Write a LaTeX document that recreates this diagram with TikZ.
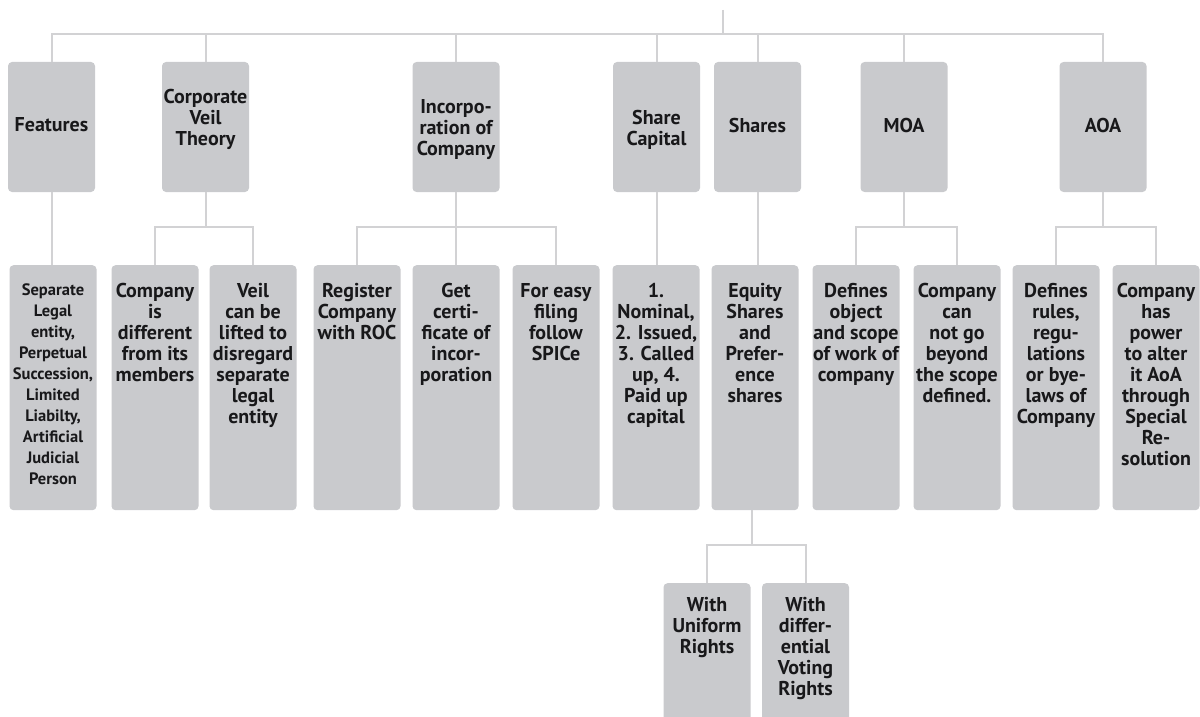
\documentclass[tikz,border=0pt]{standalone}
\usepackage{fontspec}
\setmainfont{PT Sans}
\begin{document}
\begin{tikzpicture}[x=1pt,y=-1pt,
  box/.style={draw=none, fill=boxgray, rounded corners=4pt, minimum width=87pt, inner sep=0pt},
  topbox/.style={box, minimum height=130pt},
  midbox/.style={box, minimum height=245pt, anchor=north},
  lowbox/.style={box, minimum height=160pt, anchor=north},
  txt/.style={text=textdark, font=\bfseries\fontsize{20}{21}\selectfont, align=center, inner sep=0pt},
  smalltxt/.style={txt, font=\bfseries\fontsize{16.5}{21}\selectfont},
  conn/.style={draw=linegray, line width=2pt}]
\definecolor{boxgray}{RGB}{201,202,205}
\definecolor{linegray}{RGB}{210,210,212}
\definecolor{textdark}{RGB}{24,24,26}
\useasboundingbox (0,0) rectangle (1200,717);
\clip (0,0) rectangle (1200,717);
% top row
\node[topbox] (feat) at (51.5,127) {};
\node[topbox] (cvt) at (205.5,127) {};
\node[topbox] (inc) at (456,127) {};
\node[topbox] (sc) at (656.5,127) {};
\node[topbox] (sh) at (757.5,127) {};
\node[topbox] (moa) at (904,127) {};
\node[topbox] (aoa) at (1103,127) {};
\node[txt] at ([yshift=2]feat.center) {Features};
\node[txt] at ([yshift=8]cvt.center) {Corporate\\Veil\\Theory};
\node[txt] at ([yshift=-3]inc.center) {Incorpo-\\ration of\\Company};
\node[txt] at ([yshift=-3]sc.center) {Share\\Capital};
\node[txt] at ([yshift=2]sh.center) {Shares};
\node[txt] at ([yshift=2]moa.center) {MOA};
\node[txt] at ([yshift=2]aoa.center) {AOA};
% second row
\node[midbox] (f1) at (53,265) {};
\node[midbox] (c1) at (155,265) {};
\node[midbox] (c2) at (253,265) {};
\node[midbox] (i1) at (357,265) {};
\node[midbox] (i2) at (456,265) {};
\node[midbox] (i3) at (556,265) {};
\node[midbox] (s1) at (656,265) {};
\node[midbox] (e1) at (755,265) {};
\node[midbox] (m1) at (856,265) {};
\node[midbox] (m2) at (957,265) {};
\node[midbox] (a1) at (1056,265) {};
\node[midbox] (a2) at (1156,265) {};
\node[smalltxt, anchor=north] at ([yshift=-19]f1.north) {Separate\\Legal\\entity,\\Perpetual\\Succession,\\Limited\\Liabilty,\\Artificial\\Judicial\\Person};
\node[txt, anchor=north] at ([yshift=-18]c1.north) {Company\\is\\different\\from its\\members};
\node[txt, anchor=north] at ([yshift=-18]c2.north) {Veil\\can be\\lifted to\\disregard\\separate\\legal\\entity};
\node[txt, anchor=north] at ([yshift=-18]i1.north) {Register\\Company\\with ROC};
\node[txt, anchor=north] at ([yshift=-18]i2.north) {Get\\certi-\\ficate of\\incor-\\poration};
\node[txt, anchor=north] at ([yshift=-18]i3.north) {For easy\\filing\\follow\\SPICe};
\node[txt, anchor=north] at ([yshift=-18]s1.north) {1.\\Nominal,\\2. Issued,\\3. Called\\up, 4.\\Paid up\\capital};
\node[txt, anchor=north] at ([yshift=-18]e1.north) {Equity\\Shares\\and\\Prefer-\\ence\\shares};
\node[txt, anchor=north] at ([yshift=-18]m1.north) {Defines\\object\\and scope\\of work of\\company};
\node[txt, anchor=north] at ([yshift=-18]m2.north) {Company\\can\\not go\\beyond\\the scope\\defined.};
\node[txt, anchor=north] at ([yshift=-18]a1.north) {Defines\\rules,\\regu-\\lations\\or bye-\\laws of\\Company};
\node[txt, anchor=north] at ([yshift=-18]a2.north) {Company\\has\\power\\to alter\\it AoA\\through\\Special\\Re-\\solution};
% third row
\node[lowbox] (u1) at (707,583) {};
\node[lowbox] (u2) at (805.5,583) {};
\node[txt, anchor=north] at ([yshift=-14]u1.north) {With\\Uniform\\Rights};
\node[txt, anchor=north] at ([yshift=-14]u2.north) {With\\differ-\\ential\\Voting\\Rights};
% connectors
\coordinate (root) at (723,10);
\coordinate (bar) at (723,34);
\draw[conn] (root) -- (bar);
\draw[conn] (feat.north) -- (feat.north |- bar) -- (aoa.north |- bar) -- (aoa.north);
\foreach \n in {cvt,inc,sc,sh,moa} \draw[conn] (\n.north) -- (\n.north |- bar);
\draw[conn] (feat.south) -- (feat.south |- f1.north);
\draw[conn] (sc.south) -- (sc.south |- s1.north);
\draw[conn] (sh.south) -- (sh.south |- e1.north);
\draw[conn] (cvt.south) -- ++(0,35) coordinate (cvtj);
\draw[conn] (c1.north) -- (c1.north |- cvtj) -- (c2.north |- cvtj) -- (c2.north);
\draw[conn] (inc.south) -- ++(0,35) coordinate (incj);
\draw[conn] (i1.north) -- (i1.north |- incj) -- (i3.north |- incj) -- (i3.north);
\draw[conn] (i2.north) -- (i2.north |- incj);
\draw[conn] (moa.south) -- ++(0,35) coordinate (moaj);
\draw[conn] (m1.north) -- (m1.north |- moaj) -- (m2.north |- moaj) -- (m2.north);
\draw[conn] (aoa.south) -- ++(0,35) coordinate (aoaj);
\draw[conn] (a1.north) -- (a1.north |- aoaj) -- (a2.north |- aoaj) -- (a2.north);
\draw[conn] ([xshift=-3]e1.south) -- ++(0,35) coordinate (eqj);
\draw[conn] (u1.north) -- (u1.north |- eqj) -- (u2.north |- eqj) -- (u2.north);
\end{tikzpicture}
\end{document}
